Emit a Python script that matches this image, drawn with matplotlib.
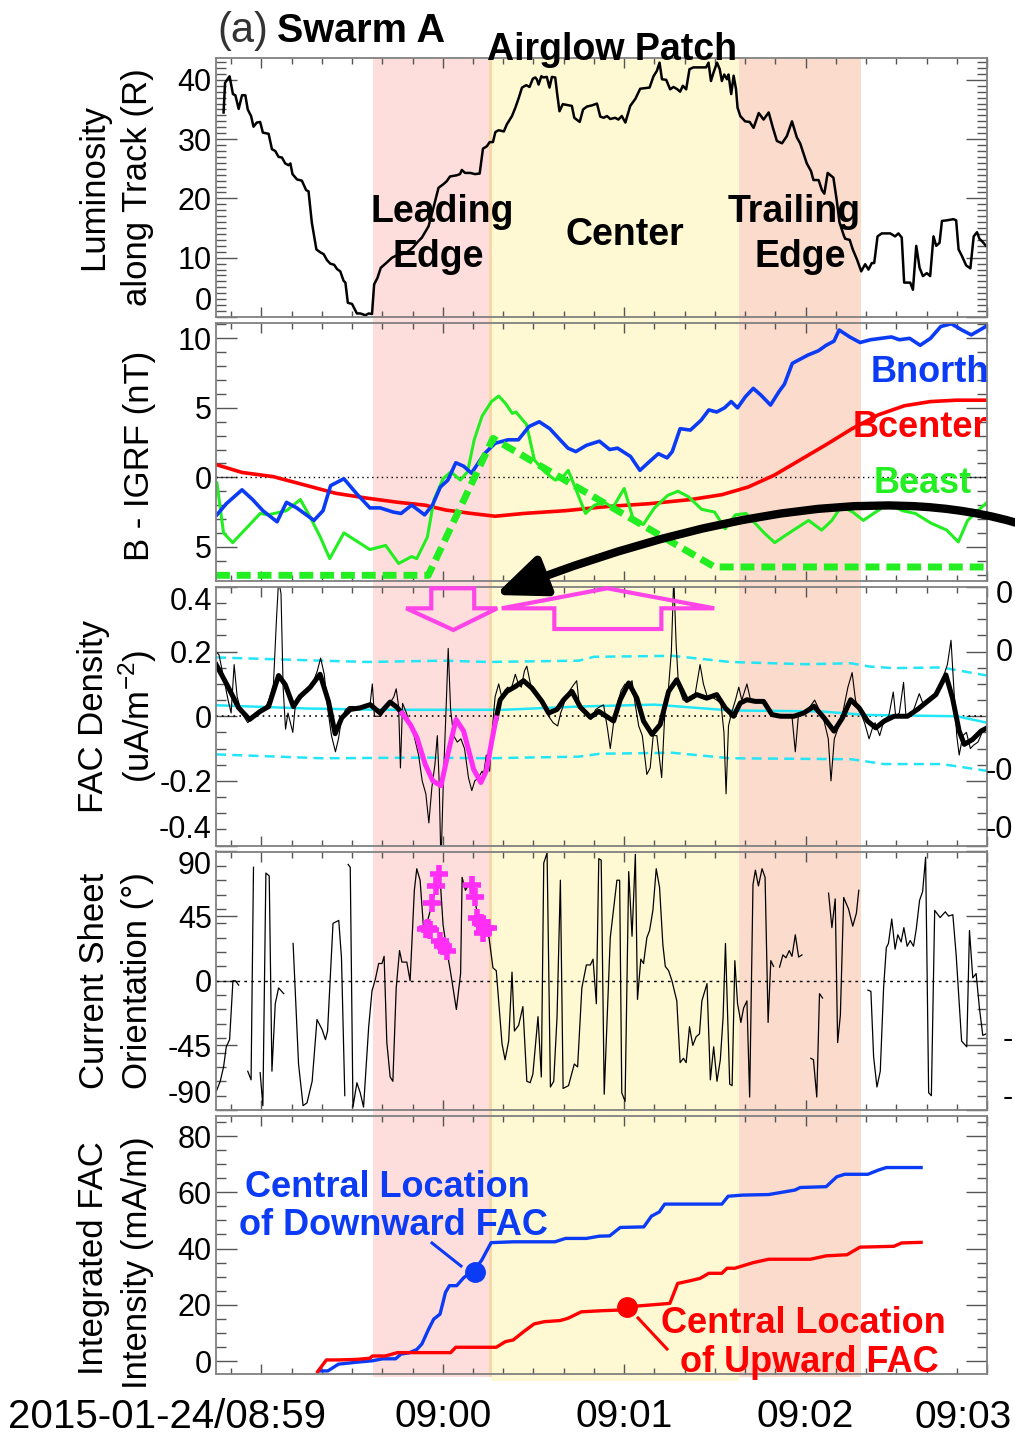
import numpy as np
import matplotlib
matplotlib.use("Agg")
import matplotlib.pyplot as plt
import matplotlib.transforms as mtransforms
from matplotlib.patches import Rectangle, Polygon, FancyArrowPatch
from matplotlib.path import Path
from matplotlib.lines import Line2D
from matplotlib.ticker import MultipleLocator

plt.rcParams['font.family'] = ['Liberation Sans', 'DejaVu Sans']

# time axis: seconds after 2015-01-24 09:00:00
nan = np.nan

# (a) luminosity along track (R)
lum = [(-72.5,34.5),(-72.0,39.5),(-70.5,40.6),(-69.4,37.6),(-68.6,37.4),(-67.5,35.1),(-66.4,37.4),(-65.3,37.4),
       (-64.5,35.0),(-63.4,33.9),(-62.6,32.1),(-61.5,32.8),(-60.4,32.9),(-59.5,31.1),(-57.6,30.9),(-56.5,28.3),
       (-55.4,28.0),(-54.3,27.0),(-53.2,26.9),(-52.1,25.9),(-51.0,25.6),(-50.4,25.9),(-49.7,24.1),(-48.2,23.2),
       (-46.6,23.0),(-45.2,21.4),(-44.4,21.2),(-43.3,15.9),(-41.8,11.4),(-40.5,10.9),(-39.4,10.6),(-38.3,9.6),
       (-37.2,9.0),(-35.9,8.8),(-35.0,8.1),(-33.9,7.7),(-32.8,6.1),(-32.2,5.8),(-31.4,2.4),(-30.0,2.2),
       (-28.4,0.6),(-27.3,0.6),(-25.6,0.3),(-24.5,0.6),(-23.4,0.5),(-22.7,5.5),(-21.6,6.6),(-20.5,8.3),
       (-18.5,9.2),(-16.8,10.0),(-15.2,10.4),(-13.5,10.6),(-11.9,10.9),(-9.9,11.7),(-8.6,12.5),(-6.9,13.4),
       (-4.7,15.3),(-3.1,18.4),(-1.4,21.8),(0.2,22.4),(1.3,22.9),(2.4,23.7),(4.6,23.9),(5.7,24.1),(6.3,24.8),
       (7.4,24.3),(9.1,24.3),(10.7,24.1),(12.2,24.2),(13.3,28.4),(14.6,28.8),(15.5,29.5),(16.6,29.5),
       (17.4,31.2),(18.5,31.5),(20.2,31.3),(21.2,32.5),(22.9,33.9),(24.0,35.3),(25.1,36.9),(26.2,38.7),
       (27.6,39.1),(28.7,38.8),(29.8,40.2),(30.6,40.4),(31.1,40.1),(31.7,39.2),(32.6,40.6),(33.3,40.4),
       (34.4,40.5),(35.3,38.7),(36.1,40.5),(37.2,40.4),(37.8,37.8),(38.6,34.7),(39.7,35.9),(41.6,35.7),
       (42.7,35.6),(43.5,33.6),(45.3,32.9),(46.4,35.0),(47.7,35.5),(49.4,35.7),(51.0,36.0),(52.1,33.8),
       (53.2,33.6),(54.3,33.9),(55.4,33.4),(57.0,33.6),(58.1,33.3),(59.2,33.9),(60.4,32.8),(62.0,35.6),
       (63.7,36.8),(65.3,38.5),(68.4,38.7),(69.7,40.6),(70.8,41.5),(71.7,42.9),(72.5,40.1),(73.9,40.0),
       (75.2,38.4),(76.3,38.8),(77.6,38.4),(78.5,38.0),(79.4,39.0),(80.5,38.4),(81.6,41.8),(82.9,42.1),
       (85.1,42.1),(87.1,42.1),(87.9,42.9),(88.7,39.8),(89.6,41.3),(90.7,42.9),(91.6,41.8),(92.3,39.8),
       (93.1,40.9),(94.0,40.1),(94.5,40.9),(95.4,37.6),(96.2,40.7),(97.0,38.4),(97.5,35.3),(98.4,33.9),
       (100.0,33.0),(101.5,32.9),(102.8,31.9),(104.5,34.4),(106.1,33.3),(107.8,34.5),(109.2,31.9),
       (110.5,29.7),(112.2,29.3),(113.8,30.5),(115.5,33.0),(117.1,30.3),(118.2,29.3),(120.4,25.9),
       (121.8,24.6),(122.6,23.1),(124.3,23.1),(125.4,21.4),(126.2,20.8),(127.3,24.3),(129.2,23.5),
       (130.3,19.7),(131.2,16.0),(132.6,13.8),(133.1,13.2),(134.6,13.0),(135.6,11.4),(137.0,9.7),
       (138.4,7.7),(139.7,8.9),(140.8,8.0),(141.9,9.1),(142.7,9.1),(143.8,13.6),(145.2,14.1),(148.0,14.1),
       (149.6,13.6),(150.7,14.1),(151.8,13.4),(152.6,5.8),(154.6,5.8),(155.5,4.6),(156.6,12.0),(157.7,8.3),
       (158.8,6.9),(160.1,7.4),(161.2,6.9),(162.3,13.6),(163.2,12.0),(164.3,12.5),(165.1,16.2),(166.7,16.3),
       (168.9,16.5),(169.8,16.3),(170.6,11.4),(171.7,10.3),(173.1,8.7),(174.5,8.2),(175.6,13.6),(176.7,14.3),
       (177.5,13.2),(178.3,12.8),(179.7,12.0)]

# (b) B - IGRF (nT)
bnorth = [(-74.7,-2.7),(-71.6,-1.9),(-66.4,-0.9),(-62.9,-1.6),(-59.5,-2.4),(-54.8,-3.2),(-51.7,-1.8),(-48.3,-2.2),
          (-42.6,-3.1),(-39.6,-2.4),(-37.1,-0.6),(-32.7,-0.1),(-28.4,-1.2),(-24.1,-2.2),(-20.7,-2.2),(-16.4,-2.5),
          (-13.8,-2.6),(-10.3,-2.0),(-6.0,-2.7),(-3.4,-2.0),(-0.8,-0.7),(1.7,-0.2),(4.3,1.05),(6.9,0.8),(9.5,0.3),
          (13.8,1.7),(17.3,2.45),(21.6,2.7),(25.0,2.7),(28.5,3.65),(31.9,4.0),(35.4,3.5),(38.8,2.7),(41.4,2.1),
          (44.0,1.85),(47.5,2.3),(51.8,2.6),(55.2,2.0),(57.8,2.1),(62.1,1.5),(65.2,0.5),(68.2,1.1),(71.3,1.7),
          (74.2,1.4),(75.9,1.85),(78.5,3.5),(81.9,3.4),(85.4,4.1),(88.0,4.85),(90.6,4.7),(93.2,5.0),(95.4,5.45),
          (97.5,5.0),(100.1,5.8),(102.7,6.4),(105.3,5.9),(108.4,5.2),(111.3,6.2),(113.0,6.7),(115.6,8.2),
          (118.2,8.5),(120.8,8.8),(124.2,9.1),(126.8,9.5),(129.4,9.8),(131.1,10.6),(134.6,10.1),(138.0,9.7),
          (141.5,9.9),(144.9,10.0),(148.4,10.1),(151.0,9.9),(154.4,10.0),(157.9,9.5),(161.3,10.0),(164.7,10.85),
          (168.2,11.05),(171.7,10.6),(174.8,10.25),(176.8,10.5),(180.0,10.9)]
bcenter = [(-74.7,0.9),(-66.4,0.35),(-56.1,0.05),(-45.7,-0.55),(-35.4,-1.15),(-25.0,-1.5),(-14.7,-1.8),(-6.0,-2.0),
           (0.9,-2.35),(9.5,-2.6),(17.3,-2.8),(26.8,-2.6),(40.6,-2.4),(54.4,-2.1),(68.2,-1.9),(82.0,-1.6),
           (92.3,-1.25),(101.0,-0.7),(109.6,0.15),(118.2,1.25),(126.8,2.35),(135.4,3.5),(144.1,4.5),(152.7,5.15),
           (161.3,5.45),(169.9,5.55),(180.0,5.55)]
beast = [(-74.7,-0.4),(-72.5,-4.0),(-69.5,-4.7),(-64.7,-3.6),(-60.4,-2.6),(-57.8,-2.7),(-51.7,-2.4),(-47.1,-1.6),
         (-44.0,-2.8),(-40.5,-4.3),(-37.4,-5.85),(-32.7,-4.0),(-28.4,-4.6),(-24.1,-5.2),(-18.9,-4.9),(-14.6,-6.2),
         (-10.3,-5.7),(-8.6,-5.85),(-5.1,-4.3),(-2.9,-1.6),(0.1,-0.1),(2.7,0.4),(5.8,-0.2),(8.2,0.4),(10.4,2.7),
         (13.0,4.4),(16.1,5.45),(18.5,5.85),(20.8,5.3),(23.0,4.6),(24.2,4.7),(27.7,3.8),(30.3,1.25),(33.7,0.4),
         (37.2,-0.2),(39.8,0.05),(41.5,0.5),(44.1,-0.9),(47.2,-2.6),(50.2,-2.0),(53.6,-1.8),(56.2,-2.2),
         (60.0,-0.8),(63.1,-3.1),(66.3,-3.4),(70.0,-2.2),(74.4,-1.3),(77.8,-1.0),(81.3,-1.4),(85.6,-2.3),
         (89.9,-2.5),(93.4,-3.7),(96.8,-2.7),(100.3,-2.6),(103.7,-3.4),(106.3,-4.0),(109.8,-4.7),(113.2,-4.2),
         (116.7,-3.7),(121.0,-3.1),(125.3,-3.8),(128.7,-3.1),(131.8,-2.1),(135.6,-2.5),(139.1,-3.1),(142.5,-2.6),
         (147.4,-1.9),(152.0,-2.4),(156.3,-2.6),(161.5,-3.3),(166.7,-3.8),(170.5,-4.65),(173.6,-3.1),(177.0,-2.4),
         (180.0,-1.8)]
beast_model = [(-75.0,-7.05),(-4.8,-7.05),(16.6,2.8),(89.9,-6.45),(180.0,-6.45)]

# (c) FAC density (uA/m-2): raw, smoothed, +/- thresholds
fac_raw = [(-75.0,0.20),(-74.0,0.19),(-72.5,0.12),(-71.0,0.05),(-70.0,0.01),(-69.0,0.16),(-68.0,0.06),(-66.5,0.01),
           (-64.5,-0.02),(-62.5,0.0),(-60.5,0.02),(-58.5,0.03),(-57.5,0.05),(-56.0,0.10),(-55.0,0.30),(-54.3,0.42),
           (-53.5,0.38),(-52.8,0.09),(-52.0,-0.04),(-51.2,0.01),(-50.4,-0.02),(-49.6,-0.05),(-48.8,0.03),
           (-47.5,0.05),(-45.5,0.07),(-43.5,0.09),(-41.5,0.14),(-40.4,0.18),(-39.2,0.13),(-38.0,0.02),
           (-36.8,-0.06),(-35.5,-0.11),(-34.5,-0.07),(-33.5,-0.01),(-32.2,0.02),(-31.0,0.03),(-29.5,0.03),
           (-27.5,0.02),(-25.5,0.03),(-24.0,0.04),(-23.3,0.10),(-22.6,0.0),(-21.5,0.0),(-20.5,0.0),(-19.2,0.02),
           (-17.5,0.04),(-16.2,0.06),(-15.4,0.085),(-14.6,0.03),(-14.0,-0.16),(-13.3,0.04),(-12.0,0.01),
           (-10.8,-0.03),(-9.5,-0.06),(-8.0,-0.12),(-6.8,-0.20),(-5.6,-0.24),(-4.6,-0.33),(-3.6,-0.22),
           (-2.6,-0.15),(-1.8,-0.06),(-1.2,-0.20),(-0.6,-0.46),(0.2,-0.20),(1.2,0.05),(1.8,0.21),(2.6,0.02),
           (3.6,-0.06),(4.8,-0.08),(6.0,-0.07),(7.2,-0.10),(8.5,-0.19),(9.6,-0.23),(10.6,-0.20),(11.8,-0.19),
           (13.0,-0.17),(13.5,-0.18),(14.4,-0.12),(15.5,-0.17),(16.3,-0.05),(17.3,0.06),(18.5,0.10),(19.5,0.06),
           (20.5,0.08),(21.5,0.09),(22.5,0.08),(24.0,0.13),(25.0,0.10),(26.0,0.09),(27.0,0.14),(27.8,0.155),
           (29.0,0.10),(30.5,0.07),(32.0,0.05),(33.5,0.03),(35.0,0.0),(36.5,-0.02),(38.0,-0.03),(39.0,0.01),
           (40.5,0.05),(42.0,0.08),(43.5,0.10),(44.3,0.11),(45.2,0.03),(46.5,0.02),(47.8,0.0),(49.0,-0.01),
           (50.5,0.02),(52.0,0.03),(53.2,0.035),(54.5,-0.04),(55.4,-0.10),(56.5,-0.02),(57.5,0.03),(59.0,0.08),
           (60.3,0.10),(61.5,0.09),(62.6,0.11),(63.6,0.04),(64.8,-0.03),(66.0,-0.06),(67.5,-0.18),(68.6,-0.16),
           (69.6,-0.06),(70.8,-0.06),(72.4,-0.19),(73.5,0.02),(74.6,0.08),(75.6,0.20),(76.4,0.43),(77.2,0.22),
           (78.0,0.09),(79.5,0.05),(80.8,0.05),(82.0,0.05),(83.5,0.07),(85.1,0.16),(86.2,0.10),(87.5,0.06),
           (89.0,0.06),(90.6,0.05),(92.0,0.04),(93.0,-0.05),(93.7,-0.24),(94.5,-0.03),(95.5,0.01),(96.8,0.05),
           (97.9,0.09),(98.9,0.05),(100.6,0.10),(101.8,0.05),(103.5,0.05),(105.0,0.05),(106.5,0.04),(108.0,0.01),
           (110.0,0.0),(113.0,0.0),(115.5,0.0),(116.6,-0.11),(117.6,0.0),(119.5,0.01),(121.5,0.03),(123.0,0.05),
           (124.5,0.02),(126.0,-0.01),(127.5,-0.07),(128.4,-0.20),(129.5,-0.07),(131.0,-0.03),(132.5,0.02),
           (134.0,0.09),(135.4,0.135),(136.5,0.05),(137.8,0.02),(139.5,-0.02),(141.0,-0.07),(142.0,-0.04),
           (143.0,-0.02),(144.5,-0.06),(146.0,-0.01),(147.5,0.0),(149.0,0.075),(149.8,0.0),(151.0,0.01),
           (152.4,0.105),(153.2,0.0),(155.0,0.0),(157.6,0.07),(158.8,0.04),(160.5,0.05),(162.0,0.06),(163.5,0.07),
           (165.5,0.12),(166.9,0.16),(168.1,0.235),(169.2,0.06),(170.0,-0.06),(170.8,-0.12),(172.0,-0.06),
           (173.2,-0.05),(174.5,-0.10),(175.5,-0.09),(177.0,-0.08),(178.4,-0.05),(180.0,-0.04)]
fac_smooth = [(-74.9,0.159),(-71.4,0.098),(-67.5,0.026),(-63.9,-0.010),(-60.4,0.015),(-57.6,0.030),(-54.3,0.126),
              (-52.1,0.098),(-49.4,0.030),(-47.2,0.061),(-43.9,0.089),(-40.6,0.130),(-37.8,0.046),(-35.6,-0.054),
              (-33.4,-0.005),(-30.6,0.021),(-27.3,0.026),(-24.0,0.036),(-20.7,0.010),(-17.4,0.044),(-15.2,0.028),
              (-13.5,0.010),(-10.7,-0.026),(-8.5,-0.067),(-5.8,-0.149),(-3.3,-0.200),(-0.6,-0.215),(1.9,-0.108),
              (4.4,-0.010),(6.9,-0.046),(10.2,-0.164),(12.6,-0.205),(14.4,-0.169),(16.2,-0.077),(17.7,-0.005),
              (19.0,0.051),(21.2,0.077),(24.0,0.092),(26.7,0.110),(29.5,0.087),(32.8,0.046),(35.0,0.010),
              (37.8,0.021),(40.0,0.051),(42.7,0.077),(45.5,0.028),(48.8,-0.003),(51.6,0.015),(54.9,-0.005),
              (56.5,-0.015),(58.7,0.051),(61.5,0.103),(64.2,0.056),(66.4,-0.015),(69.2,-0.056),(71.9,-0.026),
              (74.7,0.077),(77.4,0.113),(80.7,0.049),(84.0,0.067),(87.3,0.056),(90.6,0.067),(93.4,0.026),
              (96.2,0.000),(98.4,0.041),(100.6,0.051),(103.4,0.046),(106.1,0.046),(108.9,0.005),(111.7,0.000),
              (116.1,0.000),(119.4,0.010),(122.8,0.031),(126.1,-0.005),(129.4,-0.046),(132.2,-0.005),(134.9,0.051),
              (137.7,0.026),(140.5,-0.015),(143.2,-0.036),(146.0,-0.015),(149.3,0.000),(153.7,0.000),(157.0,0.021),
              (160.3,0.046),(163.1,0.067),(166.4,0.128),(168.6,0.056),(170.8,-0.046),(172.5,-0.087),(175.2,-0.072),
              (178.0,-0.046),(180.0,-0.036)]
downward_window = (-13.5, 17.7)   # leading-edge downward FAC highlighted in magenta
fac_mean = [(-75,0.034),(-45,0.024),(-20,0.020),(20,0.020),(45,0.030),(70,0.036),(95,0.018),(125,0.015),
            (140,0.004),(170,0.0),(180,-0.02)]
fac_upper = [(-75,0.182),(-40,0.172),(-25,0.168),(0,0.172),(15,0.168),(45,0.172),(50,0.184),(76,0.187),
             (95,0.168),(120,0.161),(135,0.164),(141,0.154),(149,0.149),(165,0.151),(180,0.126)]
fac_lower = [(-75,-0.118),(-40,-0.130),(-5,-0.128),(15,-0.130),(45,-0.125),(52,-0.116),(76,-0.113),(95,-0.130),
             (135,-0.133),(146,-0.148),(165,-0.148),(180,-0.169)]

# (d) current sheet orientation (deg), nan = no data
orient = [(-74.9,-77),(-73.6,-70),(-72.5,-60),(-71.6,-46),(-70.5,-41),(-69.4,0),(-68.6,0),(-67.5,-3),(-66.5,nan),
          (-64.5,-63),(-63.4,-69),(-62.6,79),(-61.5,nan),
          (-60.4,-64),(-59.5,-87),(-58.5,75),(-57.4,73),(-56.5,-63),(-55.4,-16),(-54.3,-5),(-52.6,-9),(-51,nan),
          (-49.5,26),(-47.7,-58),(-46.2,-87),(-44.9,-85),(-43.2,-70),(-41.6,-27),(-39.9,-34),(-38.8,-41),
          (-38.1,-35),(-36.3,40),(-34.4,42),(-33.5,16),(-32.4,-80),(-31.9,nan),
          (-31.3,81),(-30.6,79),(-29.7,-88),(-28.4,-71),(-27.3,-78),(-26.2,-88),(-24.5,-32),(-23.4,-7),(-22.3,1),
          (-21.2,12),(-20.1,12),(-19.4,17),(-18.5,-43),(-17.4,-67),(-16.5,-70),(-15.4,-5),(-14.3,21),(-13.5,13),
          (-11.9,13),(-10.8,0),(-9.4,63),(-8.6,78),(-7.5,70),(-6.4,38),(-5.0,42),(-3.6,53),(-2.2,66),(-1.0,75),
          (0.1,39),(1.2,23),(2.5,7),(4.5,-20),(5.9,5),(6.4,72),(7.5,63),(8.6,67),(10.3,58),(11.4,48),(12.7,42),
          (14.2,34),(15.3,30),(16.6,9),(17.7,7),(18.8,-22),(19.6,-44),(20.6,-55),(21.8,-42),(22.9,6),(23.7,-35),
          (25.1,-31),(26.5,-18),(27.8,-70),(28.9,-71),(29.8,-65),(31.5,-25),(32.6,-67),(33.4,82),(34.5,89),
          (35.6,-74),(36.7,-70),(37.8,-25),(38.9,70),(39.8,-75),(41.6,-73),(43.5,-58),(44.6,-60),(46.0,-5),
          (47.5,11),(48.8,11),(49.7,15),(50.8,-16),(51.6,85),(52.4,84),(53.4,-79),(55.4,30),(57.6,70),(58.5,70),
          (59.2,-78),(60.3,-84),(61.5,76),(62.6,31),(63.7,88),(64.4,-13),(65.5,15),(66.4,12),(67.5,30),(68.4,35),
          (69.5,49),(70.6,78),(71.7,65),(72.8,25),(73.6,10),(74.7,7),(75.8,0),(77.4,-14),(78.5,-57),(79.6,-54),
          (80.5,-57),(81.6,-32),(82.7,-45),(83.8,-39),(84.9,-37),(85.7,-14),(87.4,-2),(88.5,-69),(89.6,-46),
          (90.7,-70),(91.8,-55),(92.7,-26),(93.5,26),(94.9,-72),(95.7,-73),(96.6,14),(97.5,-16),(98.6,-29),
          (99.5,-19),(100.6,-14),(101.5,-81),(102.6,67),(103.4,77),(104.4,66),(105.6,78),(106.6,72),(107.6,-29),
          (108.5,14),(109.4,10),(110.4,nan),
          (111.4,9.5),(112.5,18),(113.5,16),(114.6,21),(115.5,17),(116.6,32),(117.7,16.5),(118.8,18),(120,nan),
          (121.7,-54),(122.6,-55),(123.7,-81),(124.6,-9),(125.6,-12),(126.6,nan),
          (127.6,61),(128.7,37),(129.8,57),(130.6,-43),(131.5,-24),(132.6,58),(134.2,50),(135.6,38),(136.8,47),
          (137.6,63),(139,nan),
          (140.6,-6.5),(141.6,-7.4),(142.5,-53),(143.6,-74),(144.7,-63),(145.8,-5),(146.7,23),(147.4,26),
          (148.5,43),(149.6,22),(150.5,32),(151.6,27),(152.5,37),(153.6,24),(154.6,28),(155.7,24),(156.6,36),
          (157.7,56),(158.7,62),(159.7,86),(160.7,-78),(161.6,-80),(162.7,49),(164.5,44),(166.2,48),(167.3,45),
          (168.7,46),(169.8,18),(171.6,-42),(173.3,-46),(174.2,35),(175.3,2),(176.4,5),(177.5,-19),(178.6,-38),
          (179.7,-37)]
orient_marks = [(-5.6,36),(-4.8,37),(-4.2,35),(-3.6,54),(-2.2,66),(-1.4,74),(-1.0,28),(0.2,24),(1.5,21),
                (9.6,67),(10.7,58),(11.2,44),(12.6,40),(13.3,33),(14.0,37),(15.1,37)]

# (e) integrated FAC intensity (mA/m)
int_down = [(-40.9,-3.5),(-38.0,-3.5),(-34.5,-1.1),(-28.4,-0.4),(-23.3,0.1),(-19.9,0.8),(-15.6,0.8),(-13.8,2.5),
            (-11.2,2.9),(-8.6,4.1),(-6.9,6.1),(-4.7,11.3),(-3.0,14.9),(-0.9,16.7),(0.9,24.4),(2.2,26.8),(4.6,26.8),
            (6.9,29.6),(10.8,32.8),(12.9,35.9),(16.0,42.1),(23.3,42.4),(37.1,42.4),(40.6,43.6),(47.5,43.6),
            (51.8,44.4),(55.2,44.5),(58.7,47.5),(66.5,47.7),(69.0,51.5),(71.6,53.0),(73.4,55.8),(92.3,55.8),
            (94.4,58.6),(99.2,59.0),(107.8,59.2),(116.5,60.8),(118.2,61.7),(126.8,62.0),(130.3,65.5),(132.9,66.4),
            (140.6,66.4),(144.1,67.9),(146.7,68.8),(158.2,68.8)]
int_up = [(-41.4,-3.8),(-38.5,0.4),(-34.5,0.4),(-28.4,0.6),(-24.1,1.0),(-23.3,1.8),(-19.0,1.8),(-15.0,3.0),
          (2.6,3.0),(4.3,4.9),(17.7,4.9),(20.7,6.9),(23.3,7.5),(26.7,10.4),(30.2,13.2),(33.6,14.0),(38.8,14.4),
          (41.4,15.2),(45.8,17.5),(52.6,17.9),(57.8,18.1),(61.3,19.3),(75.1,20.5),(77.7,27.6),(82.0,28.6),
          (85.1,29.4),(88.0,31.2),(92.3,31.2),(94.0,33.0),(96.6,33.0),(102.7,35.0),(107.8,36.2),(121.6,36.2),
          (126.8,37.4),(133.7,37.8),(138.0,40.5),(149.2,40.8),(151.8,42.0),(158.2,42.2)]
center_down = (10.7, 31.6)
center_up = (60.9, 19.2)

# patch regions: leading edge, center, trailing edge
region_edges = [-23.0, 15.8, 97.9, 138.2]
region_colors = ['#FDDEDC', '#FFF9D3', '#FBDBCB']

W, H = 1015, 1434
fig = plt.figure(figsize=(W / 100, H / 100), dpi=100)


def fxy(x, y):
    # pixel position (from top-left) -> figure fraction
    return x / W, 1 - y / H


tops = [58.5, 322.5, 587.0, 851.5, 1115.5]
ph = 258.5
axes = []
for top in tops:
    x0, y1 = fxy(216, top + ph)
    axes.append(fig.add_axes([x0, y1, 771 / W, ph / H]))
ax1, ax2, ax3, ax4, ax5 = axes

ylims = [(0, 43.6), (-7.46, 11.14), (-0.4, 0.4), (-90, 90), (-4.6, 87.3)]
yticks = [[0, 10, 20, 30, 40], [-5, 0, 5, 10], [-0.4, -0.2, 0, 0.2, 0.4], [-90, -45, 0, 45, 90], [0, 20, 40, 60, 80]]
ytlabs = [['0', '10', '20', '30', '40'], ['5', '0', '5', '10'], ['-0.4', '-0.2', '0', '0.2', '0.4'],
          ['-90', '-45', '0', '45', '90'], ['0', '20', '40', '60', '80']]
yminor = [1, 1, 0.05, 10, 5]

for ax, yl, yt, lab, mn in zip(axes, ylims, yticks, ytlabs, yminor):
    ax.set_facecolor('none')
    ax.set_xlim(-75, 180)
    ax.set_ylim(*yl)
    ax.set_xticks([-60, 0, 60, 120, 180])
    ax.xaxis.set_minor_locator(MultipleLocator(10))
    ax.set_yticks(yt)
    ax.set_yticklabels(lab)
    ax.yaxis.set_minor_locator(MultipleLocator(mn))
    ax.tick_params(which='both', direction='in', top=True, right=True, color='#555555', width=1.0)
    ax.tick_params(which='major', axis='y', length=15, labelsize=22, pad=3)
    ax.tick_params(which='minor', axis='y', length=7)
    ax.tick_params(which='major', axis='x', length=7)
    ax.tick_params(which='minor', axis='x', length=4)
    ax.tick_params(axis='x', labelbottom=False)
    for s in ax.spines.values():
        s.set_color('#808080')
        s.set_linewidth(1.3)

# edge tick labels pushed inside like the original
ax1.get_yticklabels()[0].set_va('bottom')
ax3.get_yticklabels()[0].set_va('bottom')
ax3.get_yticklabels()[-1].set_va('top')
ax4.get_yticklabels()[0].set_va('bottom')
ax4.get_yticklabels()[-1].set_va('top')

ax5.set_xticklabels(['', '09:00', '09:01', '09:02', ''])
ax5.tick_params(axis='x', labelbottom=True, labelsize=28, pad=18)

# shaded patch regions spanning all panels
blend = mtransforms.blended_transform_factory(ax1.transData, fig.transFigure)
bottoms = [1377, 1381, 1377]
for i in range(3):
    y0 = 1 - bottoms[i] / H
    fig.add_artist(Rectangle((region_edges[i], y0), region_edges[i + 1] - region_edges[i], (bottoms[i] - 58.5) / H,
                             transform=blend, facecolor=region_colors[i], edgecolor='none', zorder=-5))
fig.add_artist(Rectangle((region_edges[1] - 0.4, 1 - 1377 / H), 0.8, (1377 - 58.5) / H, transform=blend,
                         facecolor='#F9D6A8', edgecolor='none', zorder=-4))

# panel 1
t, v = np.array(lum).T
ax1.plot(t, v, color='black', lw=1.8)

# panel 2
ax2.axhline(0, color='black', lw=1, ls=(0, (1, 2.5)))
t, v = np.array(bcenter).T
ax2.plot(t, v, color='#FF0000', lw=2.6)
t, v = np.array(beast).T
ax2.plot(t, v, color='#22EE22', lw=2.2)
t, v = np.array(bnorth).T
ax2.plot(t, v, color='#0B3BF5', lw=2.6)
t, v = np.array(beast_model).T
ax2.plot(t, v, color='#22EE22', lw=5, dashes=(2, 1))

# panel 3
ax3.axhline(0, color='black', lw=1.2, ls=(0, (1, 2.5)))
t, v = np.array(fac_upper).T
ax3.plot(t, v, color='#22E6F6', lw=1.8, dashes=(4, 2.5))
t, v = np.array(fac_lower).T
ax3.plot(t, v, color='#22E6F6', lw=1.8, dashes=(4, 2.5))
t, v = np.array(fac_mean).T
ax3.plot(t, v, color='#22E6F6', lw=1.8)
t, v = np.array(fac_raw).T
ax3.plot(t, v, color='black', lw=0.8)
t, v = np.array(fac_smooth).T
inside = (t >= downward_window[0]) & (t <= downward_window[1])
ax3.plot(t, np.where(t <= downward_window[0], v, np.nan), color='black', lw=3.6)
ax3.plot(t, np.where(t >= downward_window[1], v, np.nan), color='black', lw=3.6)
ax3.plot(t[inside], v[inside], color='#FF2EF5', lw=3.6)

# magenta arrows (downward / upward current)
down_arrow = [(-3.8, 0.396), (10.4, 0.396), (10.4, 0.334), (18.0, 0.334), (3.5, 0.267), (-12.1, 0.334), (-3.8, 0.334)]
up_arrow = [(19.5, 0.334), (54.4, 0.396), (89.8, 0.334), (72.3, 0.334), (72.3, 0.270), (36.9, 0.270), (36.9, 0.334)]
for poly in (down_arrow, up_arrow):
    ax3.add_patch(Polygon(poly, closed=True, fill=False, edgecolor='#FF44E8', lw=3, clip_on=False, zorder=5))

# panel 4
ax4.axhline(0, color='black', lw=1, ls=(0, (2, 3)))
t, v = np.array(orient).T
ax4.plot(t, v, color='black', lw=0.9)
t, v = np.array(orient_marks).T
ax4.plot(t, v, ls='none', marker='+', ms=13, mew=4, color='#FF2EF5')

# panel 5
t, v = np.array(int_down).T
ax5.plot(t, v, color='#0B3BF5', lw=2.4)
t, v = np.array(int_up).T
ax5.plot(t, v, color='#FF0000', lw=2.4)
ax5.plot(*center_down, marker='o', ms=14, color='#0B3BF5')
ax5.plot(*center_up, marker='o', ms=14, color='#FF0000')

# leader lines for the central locations
fig.add_artist(Line2D([432 / W, 461 / W], [1 - 1243 / H, 1 - 1266 / H], color='#0B3BF5', lw=2.2))
fig.add_artist(Line2D([638 / W, 667 / W], [1 - 1318 / H, 1 - 1349 / H], color='#FF0000', lw=2.2))

# y labels
def ylab(x, y, s):
    fig.text(*fxy(x, y), s, rotation=90, ha='center', va='center', fontsize=25)

ylab(94, 187, 'Luminosity')
ylab(138, 187, 'along Track (R)')
ylab(140, 456, 'B - IGRF (nT)')
ylab(94, 716, 'FAC Density')
ylab(138, 716, r'(uA/m$^{\mathregular{-2}}$)')
ylab(94, 981, 'Current Sheet')
ylab(138, 981, 'Orientation (°)')
ylab(94, 1258, 'Integrated FAC')
ylab(138, 1263, 'Intensity (mA/m)')

# x labels outside tick range
fig.text(*fxy(8, 1428), '2015-01-24/08:59', ha='left', va='baseline', fontsize=29)
fig.text(*fxy(963, 1428), '09:03', ha='center', va='baseline', fontsize=28)

# visible pieces of the neighbouring panel (b) tick labels at the right edge
for x, y, s in [(1013, 595, '0'), (1013, 653, '0'), (1013, 772, '-0'), (1013, 830, '-0'),
                (1013, 1040, '-'), (1013, 1098, '-')]:
    fig.text(*fxy(x, y), s, ha='right', va='center', fontsize=22)

# titles and annotations
fig.text(*fxy(243, 42), '(a)', ha='center', va='baseline', fontsize=30, color='#333333')
fig.text(*fxy(277, 42), 'Swarm A', ha='left', va='baseline', fontsize=28.5, fontweight='bold')
fig.text(*fxy(612, 60), 'Airglow Patch', ha='center', va='baseline', fontsize=27, fontweight='bold')
fig.text(*fxy(442, 222), 'Leading', ha='center', va='baseline', fontsize=27, fontweight='bold')
fig.text(*fxy(438, 267), 'Edge', ha='center', va='baseline', fontsize=27, fontweight='bold')
fig.text(*fxy(625, 245), 'Center', ha='center', va='baseline', fontsize=27, fontweight='bold')
fig.text(*fxy(794, 222), 'Trailing', ha='center', va='baseline', fontsize=27, fontweight='bold')
fig.text(*fxy(800, 267), 'Edge', ha='center', va='baseline', fontsize=27, fontweight='bold')

fig.text(*fxy(871, 382), 'Bnorth', ha='left', va='baseline', fontsize=26, fontweight='bold', color='#0B3BF5')
fig.text(*fxy(853, 437), 'Bcenter', ha='left', va='baseline', fontsize=26, fontweight='bold', color='#FF0000')
fig.text(*fxy(874, 493), 'Beast', ha='left', va='baseline', fontsize=26, fontweight='bold', color='#22EE22')

fig.text(*fxy(387, 1197), 'Central Location', ha='center', va='baseline', fontsize=26, fontweight='bold', color='#0B3BF5')
fig.text(*fxy(393, 1235), 'of Downward FAC', ha='center', va='baseline', fontsize=26, fontweight='bold', color='#0B3BF5')
fig.text(*fxy(803, 1333), 'Central Location', ha='center', va='baseline', fontsize=26, fontweight='bold', color='#FF0000')
fig.text(*fxy(809, 1372), 'of Upward FAC', ha='center', va='baseline', fontsize=26, fontweight='bold', color='#FF0000')

# big curved arrow pointing at the leading edge
verts = [fxy(1080, 548), fxy(880, 445), fxy(495, 595)]
arrow = FancyArrowPatch(path=Path(verts, [Path.MOVETO, Path.CURVE3, Path.CURVE3]),
                        arrowstyle='-|>,head_length=0.6,head_width=0.25', mutation_scale=50,
                        color='black', lw=6, transform=fig.transFigure, zorder=10)
fig.add_artist(arrow)

fig.savefig('out.png', dpi=100)
